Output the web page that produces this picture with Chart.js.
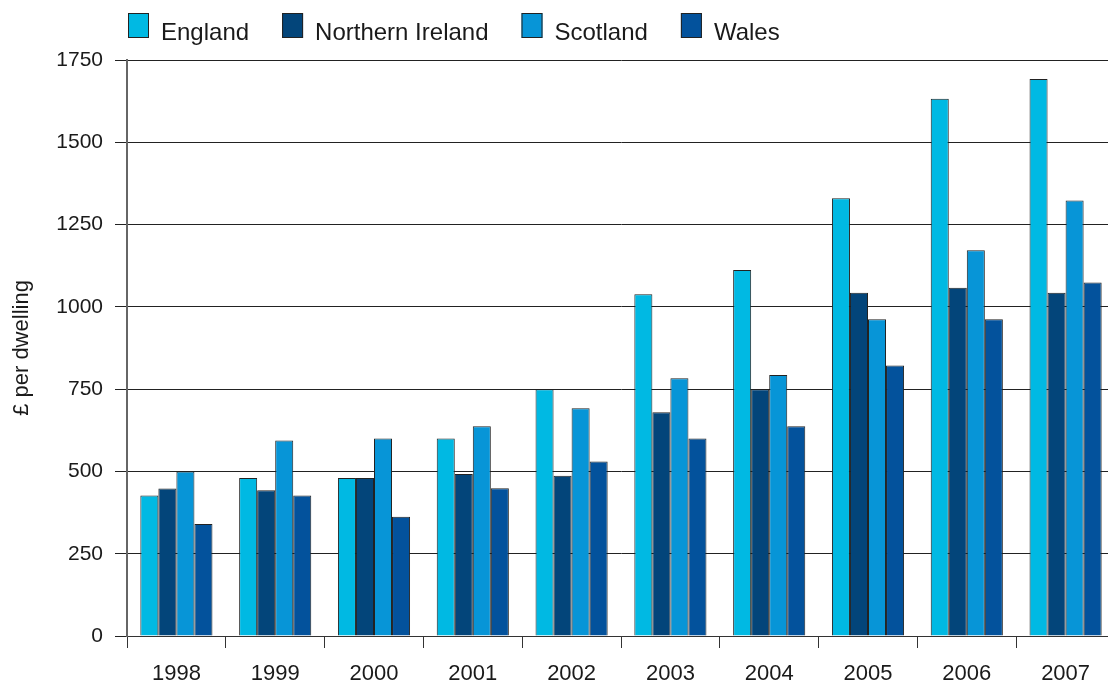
<!DOCTYPE html>
<html>
<head>
<meta charset="utf-8">
<title>Council tax per dwelling, 1998–2007</title>
<script src="https://cdn.jsdelivr.net/npm/chart.js@4/dist/chart.umd.min.js"></script>
<style>
  html, body { margin: 0; padding: 0; background: #ffffff; overflow: hidden; }
  #wrap { position: relative; width: 1118px; height: 686px; }
</style>
</head>
<body>
<div id="wrap"><canvas id="chart"></canvas></div>
<script>
// Average charge per dwelling (£) by nation and year
const years = ['1998', '1999', '2000', '2001', '2002', '2003', '2004', '2005', '2006', '2007'];
const england = [427, 480, 480, 600, 750, 1038, 1112, 1330, 1632, 1692];
const northernIreland = [448, 443, 480, 492, 487, 680, 750, 1043, 1058, 1043];
const scotland = [500, 594, 600, 637, 692, 783, 793, 962, 1172, 1323];
const wales = [340, 427, 362, 449, 530, 600, 637, 822, 962, 1074];

// Value axis range and step
const yMin = 0;
const yMax = 1750;
const yStep = 250;

const FONT = "'Liberation Sans', Arial, Helvetica, sans-serif";
const INK = '#1a1a1a';
const BAR_EDGE = '#222222';

function series(label, data, color) {
  return {
    label: label,
    data: data,
    backgroundColor: color,
    borderColor: BAR_EDGE,
    borderWidth: 1,
    borderSkipped: 'bottom',
    categoryPercentage: 0.73,
    barPercentage: 1.0
  };
}

// Single-row key above the plot, starting at the value axis
const keyRow = {
  id: 'keyRow',
  afterDraw(chart, args, opts) {
    const ctx = chart.ctx;
    const left = chart.chartArea.left + 1;
    const boxTop = opts.top;
    ctx.save();
    ctx.font = opts.fontSize + 'px ' + FONT;
    ctx.textBaseline = 'middle';
    ctx.textAlign = 'left';
    let x = left;
    chart.data.datasets.forEach(ds => {
      ctx.fillStyle = ds.backgroundColor;
      ctx.fillRect(x, boxTop, opts.boxWidth, opts.boxHeight);
      ctx.strokeStyle = BAR_EDGE;
      ctx.lineWidth = 1;
      ctx.strokeRect(x + 0.5, boxTop + 0.5, opts.boxWidth - 1, opts.boxHeight - 1);
      const tx = x + opts.boxWidth + opts.textGap;
      ctx.fillStyle = INK;
      ctx.fillText(ds.label, tx, boxTop + opts.textOffset);
      x = tx + ctx.measureText(ds.label).width + opts.itemGap;
    });
    ctx.restore();
  }
};

new Chart(document.getElementById('chart'), {
  type: 'bar',
  data: {
    labels: years,
    datasets: [
      series('England', england, '#00b9e3'),
      series('Northern Ireland', northernIreland, '#03457a'),
      series('Scotland', scotland, '#0795d7'),
      series('Wales', wales, '#03529c')
    ]
  },
  plugins: [keyRow],
  options: {
    responsive: true,
    maintainAspectRatio: false,
    animation: false,
    layout: { padding: { left: 0, right: 3, top: 60, bottom: 0 } },
    plugins: {
      tooltip: { enabled: false },
      legend: { display: false },
      keyRow: {
        top: 13,
        boxWidth: 21,
        boxHeight: 25,
        textGap: 12,
        itemGap: 33,
        textOffset: 20,
        fontSize: 24
      }
    },
    scales: {
      x: {
        offset: true,
        afterFit(scale) { scale.height = 50; },
        grid: {
          display: true,
          offset: true,
          drawOnChartArea: false,
          drawTicks: true,
          tickLength: 12,
          color: '#333333',
          lineWidth: 1
        },
        border: { display: true, color: '#333333', width: 1 },
        ticks: {
          color: INK,
          padding: 13,
          maxRotation: 0,
          font: { family: FONT, size: 22 }
        }
      },
      y: {
        min: yMin,
        max: yMax,
        afterFit(scale) { scale.width = 127; },
        grid: {
          color: '#222222',
          lineWidth: 1,
          drawTicks: true,
          tickLength: 12
        },
        border: { display: true, color: '#666666', width: 2 },
        ticks: {
          stepSize: yStep,
          color: INK,
          padding: 12,
          font: { family: FONT, size: 21 },
          callback: value => String(value)
        },
        title: {
          display: true,
          text: '£ per dwelling',
          color: INK,
          padding: { top: 9, bottom: 8 },
          font: { family: FONT, size: 22 }
        }
      }
    }
  }
});
</script>
</body>
</html>
